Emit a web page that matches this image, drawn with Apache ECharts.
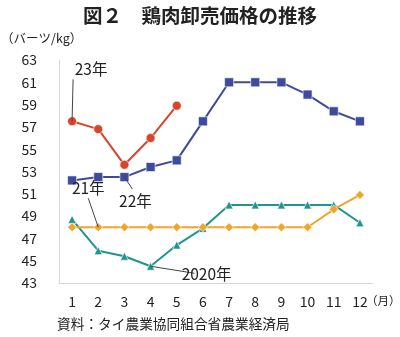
<!DOCTYPE html>
<html><head><meta charset="utf-8">
<script src="https://cdn.jsdelivr.net/npm/echarts@6/dist/echarts.min.js"></script>
<style>html,body{margin:0;padding:0;background:#fff}#c{width:400px;height:337px}</style>
</head><body><div id="c"></div>
<script>
const months = ['1','2','3','4','5','6','7','8','9','10','11','12'];
const y23 = [57.5, 56.8, 53.6, 56.0, 58.9];
const y22 = [52.2, 52.5, 52.5, 53.4, 54.0, 57.5, 61.0, 61.0, 61.0, 59.9, 58.4, 57.5];
const y21 = [48, 48, 48, 48, 48, 48, 48, 48, 48, 48, 49.6, 50.9];
const y2020 = [48.7, 45.9, 45.4, 44.5, 46.4, 47.9, 50, 50, 50, 50, 50, 48.4];
const seriesNames = ['23年', '22年', '21年', '2020年'];
const yTicks = [43, 45, 47, 49, 51, 53, 55, 57, 59, 61, 63];

const FONT = '"Noto Sans CJK JP", "Noto Sans", sans-serif';
const chart = echarts.init(document.getElementById('c'));
const colors = ['#d9452b', '#3e4b9c', '#f0a52c', '#20958f'];
const symbols = ['circle', 'rect', 'diamond', 'triangle'];
const sizes = [9, 9, 9, 8];
const data = [y23, y22, y21, y2020];

chart.setOption({
  animation: false,
  textStyle: {fontFamily: FONT},
  title: {
    text: '図２　鶏肉卸売価格の推移', left: 'center', top: 1,
    textStyle: {fontSize: 19.5, fontWeight: 'bold', color: '#222', fontFamily: FONT}
  },
  grid: {left: 59, right: 27, top: 60, bottom: 54},
  xAxis: {
    type: 'category', data: months, boundaryGap: true,
    axisLine: {lineStyle: {color: '#d8d8d8'}}, axisTick: {show: false},
    axisLabel: {color: '#222', fontSize: 14, margin: 12, fontFamily: FONT}
  },
  yAxis: {
    type: 'value', min: yTicks[0], max: yTicks[yTicks.length - 1], interval: 2,
    axisLine: {show: true, lineStyle: {color: '#d8d8d8'}}, axisTick: {show: false},
    splitLine: {show: false},
    axisLabel: {color: '#222', fontSize: 14, margin: 22, fontFamily: FONT}
  },
  series: data.map((d, i) => ({
    name: seriesNames[i], type: 'line', data: d,
    symbol: symbols[i], symbolSize: sizes[i], showAllSymbol: true,
    lineStyle: {color: colors[i], width: 2},
    itemStyle: {color: colors[i], borderColor: 'rgba(255,255,255,0.6)', borderWidth: 1},
    z: 10 - i
  }))
});

// annotations anchored to data points
const ann = [
  {s: 0, idx: 0, dx: 19, dy: -52, lx: 1, ly: -42},
  {s: 1, idx: 2, dx: 11, dy: 24, lx: 8, ly: 12},
  {s: 2, idx: 1, dx: -10, dy: -39, lx: -10, ly: -29},
  {s: 3, idx: 3, dx: 56, dy: 8, lx: 44, ly: 7}
];
const g = [];
ann.forEach(a => {
  const p = chart.convertToPixel({seriesIndex: a.s}, [a.idx, data[a.s][a.idx]]);
  g.push({type: 'line', shape: {x1: p[0], y1: p[1], x2: p[0] + a.lx, y2: p[1] + a.ly},
          style: {stroke: '#444', lineWidth: 1}, z: 20});
  g.push({type: 'text', x: p[0] + a.dx, y: p[1] + a.dy,
          style: {text: seriesNames[a.s], fill: '#222', font: '15.5px ' + FONT,
                  textAlign: 'center', textVerticalAlign: 'middle'}, z: 21});
});
g.push({type: 'text', left: 1, top: 32, style: {text: '（バーツ/kg）', fill: '#222', font: '12.5px ' + FONT}});
g.push({type: 'text', left: 366, top: 295, style: {text: '（月）', fill: '#222', font: '11.5px ' + FONT}});
g.push({type: 'text', left: 57, top: 317, style: {text: '資料：タイ農業協同組合省農業経済局', fill: '#222', font: '13.7px ' + FONT}});
chart.setOption({graphic: g});
</script></body></html>
